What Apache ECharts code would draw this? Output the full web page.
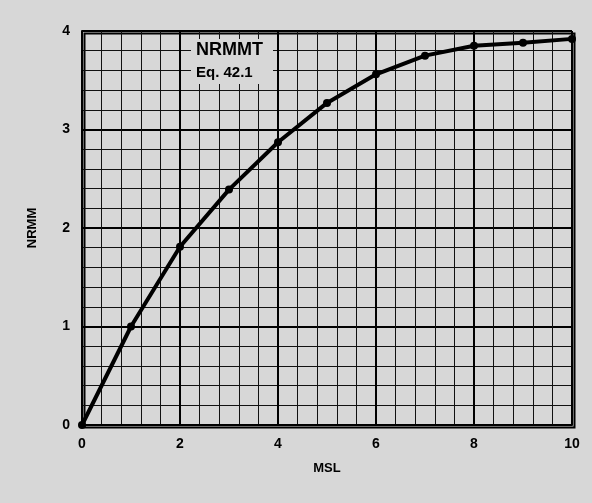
<!DOCTYPE html>
<html>
<head>
<meta charset="utf-8">
<script src="https://cdn.jsdelivr.net/npm/echarts@6/dist/echarts.min.js"></script>
<style>
html,body{margin:0;padding:0;background:#d7d7d7;}
#c{width:592px;height:503px;}
</style>
</head>
<body>
<div id="c"></div>
<script>
var msl = [0, 1, 2, 3, 4, 5, 6, 7, 8, 9, 10];
var nrmm = [0, 1.0, 1.81, 2.39, 2.87, 3.27, 3.56, 3.75, 3.85, 3.88, 3.92];
var xTicks = [0, 2, 4, 6, 8, 10];
var yTicks = [0, 1, 2, 3, 4];
var curveName = 'NRMMT';
var curveNote = 'Eq. 42.1';

var bg = '#d7d7d7';
var chart = echarts.init(document.getElementById('c'), null, {renderer: 'canvas'});
var font = 'Liberation Sans, Arial, sans-serif';

chart.setOption({
  backgroundColor: bg,
  animation: false,
  grid: {left: 82, right: 20, top: 31, bottom: 78, show: false},
  xAxis: {
    type: 'value', min: 0, max: 10, interval: 2,
    name: 'MSL', nameLocation: 'middle', nameGap: 37,
    nameTextStyle: {fontFamily: font, fontWeight: 'bold', fontSize: 13, color: '#000'},
    axisLine: {show: true, onZero: false, lineStyle: {color: '#000', width: 2}},
    axisTick: {show: false},
    axisLabel: {fontFamily: font, fontWeight: 'bold', fontSize: 14, color: '#000', margin: 12,
      formatter: function(v){ return xTicks.indexOf(v) >= 0 ? String(v) : ''; }},
    splitLine: {show: true, lineStyle: {color: '#000', width: 2}},
    minorTick: {show: false, splitNumber: 5},
    minorSplitLine: {show: true, lineStyle: {color: '#111', width: 1}}
  },
  yAxis: {
    type: 'value', min: 0, max: 4, interval: 1,
    name: 'NRMM', nameLocation: 'middle', nameGap: 43, nameRotate: 90,
    nameTextStyle: {fontFamily: font, fontWeight: 'bold', fontSize: 13, color: '#000'},
    axisLine: {show: true, onZero: false, lineStyle: {color: '#000', width: 2}},
    axisTick: {show: false},
    axisLabel: {fontFamily: font, fontWeight: 'bold', fontSize: 14, color: '#000', margin: 12,
      formatter: function(v){ return yTicks.indexOf(v) >= 0 ? String(v) : ''; }},
    splitLine: {show: true, lineStyle: {color: '#000', width: 2}},
    minorTick: {show: false, splitNumber: 5},
    minorSplitLine: {show: true, lineStyle: {color: '#111', width: 1}}
  },
  graphic: [
    {type: 'rect', left: 82, top: 31, shape: {width: 490, height: 394}, silent: true, z: -1,
      style: {fill: 'none', stroke: '#000', lineWidth: 2}},
    {type: 'rect', left: 191, top: 39, shape: {width: 82, height: 45}, z: 5,
      style: {fill: bg}},
    {type: 'text', left: 196, top: 41, z: 6,
      style: {text: curveName, fontFamily: font, fontWeight: 'bold', fontSize: 18, fill: '#000'}},
    {type: 'text', left: 196, top: 65, z: 6,
      style: {text: curveNote, fontFamily: font, fontWeight: 'bold', fontSize: 15, fill: '#000'}}
  ],
  series: [{
    type: 'line',
    data: msl.map(function(x, i){ return [x, nrmm[i]]; }),
    smooth: false,
    symbol: 'circle', symbolSize: 8,
    lineStyle: {color: '#000', width: 4},
    itemStyle: {color: '#000'},
    z: 10
  }]
});
</script>
</body>
</html>
